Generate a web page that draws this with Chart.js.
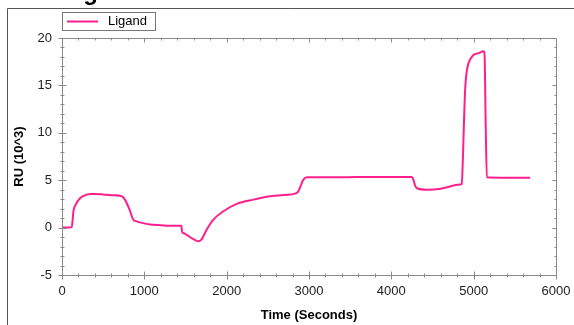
<!DOCTYPE html>
<html>
<head>
<meta charset="utf-8">
<script src="https://cdn.jsdelivr.net/npm/chart.js@4/dist/chart.umd.min.js"></script>
<style>
  html, body { margin: 0; padding: 0; background: #fff; }
  #wrap { width: 574px; height: 325px; position: relative; }
</style>
</head>
<body>
<div id="wrap"><canvas id="myChart"></canvas></div>
<script>
// sensorgram: time (s) and RU (10^3)
var timeSec = [0, 60, 118, 140, 158, 219, 300, 350, 400, 500, 600, 725, 765, 820, 866, 907, 970, 1070, 1200, 1300, 1450,
  1458, 1480, 1530, 1590, 1630, 1657, 1690, 1758, 1839, 1960, 2122, 2325, 2527, 2700, 2831, 2868,
  2932, 2973, 3013, 3400, 3742, 4100, 4249, 4270, 4290, 4313, 4431, 4600, 4836, 4856, 4868, 4876, 4896,
  4915, 4937, 4998, 5060, 5120, 5132, 5146, 5160, 5400, 5686];
var ruValues = [0, 0, 0.05, 1.8, 2.3, 3.1, 3.48, 3.55, 3.55, 3.5, 3.42, 3.3, 2.95, 1.9, 0.84, 0.66, 0.5, 0.32, 0.25, 0.2, 0.2,
  -0.45, -0.6, -0.85, -1.2, -1.38, -1.44, -1.3, -0.2, 0.84, 1.72, 2.5, 2.95, 3.3, 3.45, 3.58, 3.8,
  5.06, 5.3, 5.3, 5.3, 5.35, 5.35, 5.35, 5.0, 4.4, 4.15, 4.0, 4.1, 4.55, 4.6, 7.0, 9.3, 14.5,
  16.4, 17.35, 18.2, 18.4, 18.6, 18.3, 11.0, 5.3, 5.25, 5.25];
var xTicks = [0, 1000, 2000, 3000, 4000, 5000, 6000];
var yTicks = [-5, 0, 5, 10, 15, 20];
var seriesName = "Ligand";
var lineColor = "#ff1f8c";

var pts = timeSec.map(function (t, i) { return { x: t, y: ruValues[i] }; });

// frame, partial title, axes with crossing ticks, legend box
var decor = {
  id: "decor",
  beforeDraw: function (chart) {
    var c = chart.ctx;
    c.save();
    c.fillStyle = "#fff";
    c.fillRect(0, 0, chart.width, chart.height);
    c.fillStyle = "#000";
    c.font = "bold 24px 'Liberation Sans', Arial, sans-serif";
    c.textBaseline = "alphabetic";
    c.fillText("Ligand", 62, 0);
    c.strokeStyle = "#555";
    c.lineWidth = 1;
    c.beginPath();
    c.moveTo(7.5, chart.height);
    c.lineTo(7.5, 8.5);
    c.lineTo(chart.width, 8.5);
    c.stroke();
    c.restore();
  },
  afterDatasetsDraw: function (chart) {
    var c = chart.ctx, a = chart.chartArea;
    var xs = chart.scales.x, ys = chart.scales.y;
    var L = Math.round(a.left) + 0.5, R = Math.round(a.right) + 0.5;
    var T = Math.round(a.top) + 0.5, B = Math.round(a.bottom) + 0.5;
    c.save();
    c.strokeStyle = "#8a8a8a";
    c.lineWidth = 1;
    c.beginPath();
    c.rect(L, T, R - L, B - T);
    c.stroke();
    c.beginPath();
    var v, p, major;
    for (v = 0; v <= 6000; v += 200) {
      p = Math.round(xs.getPixelForValue(v)) + 0.5;
      major = v % 1000 === 0;
      c.moveTo(p, B + (major ? 4 : 2)); c.lineTo(p, B - (major ? 4 : 2));
      c.moveTo(p, T); c.lineTo(p, T + (major ? 4 : 2));
    }
    for (v = -5; v <= 20; v += 1) {
      p = Math.round(ys.getPixelForValue(v)) + 0.5;
      major = v % 5 === 0;
      c.moveTo(L - (major ? 4 : 2), p); c.lineTo(L + (major ? 4 : 2), p);
      c.moveTo(R, p); c.lineTo(R - (major ? 4 : 2), p);
    }
    c.stroke();
    // legend
    c.strokeStyle = "#777";
    c.strokeRect(62.5, 12.5, 93, 18);
    c.strokeStyle = lineColor;
    c.lineWidth = 2;
    c.beginPath();
    c.moveTo(67, 21.5); c.lineTo(98, 21.5);
    c.stroke();
    c.fillStyle = "#000";
    c.font = "13px 'Liberation Sans', Arial, sans-serif";
    c.textBaseline = "middle";
    c.fillText(seriesName, 108, 21);
    c.restore();
  }
};

var tickFont = { family: "'Liberation Sans', Arial", size: 13 };
var titleFont = { family: "'Liberation Sans', Arial", size: 13, weight: "bold" };

var ctx = document.getElementById("myChart");
var myChart = new Chart(ctx, {
  type: "line",
  data: {
    datasets: [{
      label: seriesName,
      data: pts,
      borderColor: lineColor,
      borderWidth: 2,
      pointRadius: 0,
      cubicInterpolationMode: "monotone",
      fill: false
    }]
  },
  options: {
    responsive: true,
    maintainAspectRatio: false,
    animation: false,
    layout: { padding: { left: 0, right: 18, top: 38, bottom: 0 } },
    plugins: { legend: { display: false }, tooltip: { enabled: false } },
    scales: {
      x: {
        type: "linear",
        min: 0, max: 6000,
        afterBuildTicks: function (s) { s.ticks = xTicks.map(function (v) { return { value: v }; }); },
        afterFit: function (s) { s.height = 50; s.paddingLeft = 0; s.paddingRight = 0; },
        grid: { display: false, drawTicks: false },
        border: { display: false },
        ticks: { padding: 9, color: "#222", font: tickFont, maxRotation: 0,
          callback: function (v) { return String(v); } },
        title: { display: true, text: "Time (Seconds)", color: "#000", padding: { top: 0, bottom: 2 }, font: titleFont }
      },
      y: {
        min: -5, max: 20,
        afterBuildTicks: function (s) { s.ticks = yTicks.map(function (v) { return { value: v }; }); },
        afterFit: function (s) { s.width = 62; s.paddingTop = 0; s.paddingBottom = 0; },
        grid: { display: false, drawTicks: false },
        border: { display: false },
        ticks: { padding: 10, color: "#222", font: tickFont,
          callback: function (v) { return String(v); } },
        title: { display: true, text: "RU (10^3)", color: "#000", padding: { top: 12, bottom: 0 }, font: titleFont }
      }
    }
  },
  plugins: [decor]
});
</script>
</body>
</html>
